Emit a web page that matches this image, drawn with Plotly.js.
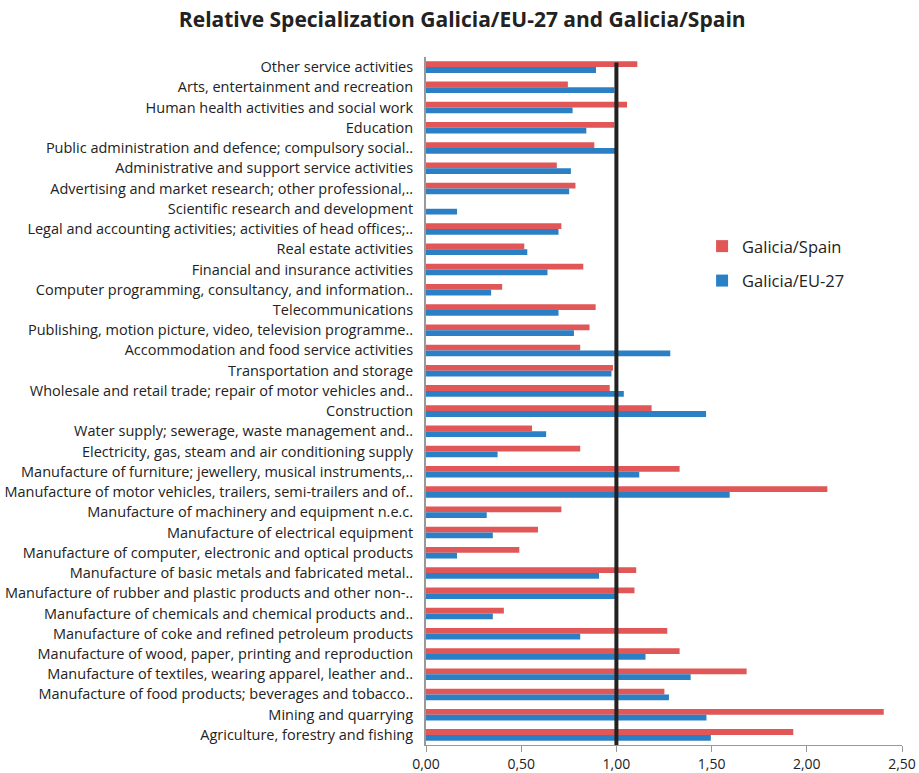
<!DOCTYPE html>
<html>
<head>
<meta charset="utf-8">
<script src="https://cdn.plot.ly/plotly-3.0.1.min.js"></script>
<style>html,body{margin:0;padding:0;background:#fff;}#chart{width:919px;height:773px;}</style>
</head>
<body>
<div id="chart"></div>
<script>
const categories = [
  "Other service activities",
  "Arts, entertainment and recreation",
  "Human health activities and social work",
  "Education",
  "Public administration and defence; compulsory social..",
  "Administrative and support service activities",
  "Advertising and market research; other professional,..",
  "Scientific research and development",
  "Legal and accounting activities; activities of head offices;..",
  "Real estate activities",
  "Financial and insurance activities",
  "Computer programming, consultancy, and information..",
  "Telecommunications",
  "Publishing, motion picture, video, television programme..",
  "Accommodation and food service activities",
  "Transportation and storage",
  "Wholesale and retail trade; repair of motor vehicles and..",
  "Construction",
  "Water supply; sewerage, waste management and..",
  "Electricity, gas, steam and air conditioning supply",
  "Manufacture of furniture; jewellery, musical instruments,..",
  "Manufacture of motor vehicles, trailers, semi-trailers and of..",
  "Manufacture of machinery and equipment n.e.c.",
  "Manufacture of electrical equipment",
  "Manufacture of computer, electronic and optical products",
  "Manufacture of basic metals and fabricated metal..",
  "Manufacture of rubber and plastic products and other non-..",
  "Manufacture of chemicals and chemical products and..",
  "Manufacture of coke and refined petroleum products",
  "Manufacture of wood, paper, printing and reproduction",
  "Manufacture of textiles, wearing apparel, leather and..",
  "Manufacture of food products; beverages and tobacco..",
  "Mining and quarrying",
  "Agriculture, forestry and fishing"
];
const galiciaSpain = [
  1.11, 0.745, 1.056, 0.989, 0.884, 0.687, 0.785, 0, 0.711,
  0.516, 0.826, 0.40, 0.891, 0.859, 0.81, 0.982, 0.965, 1.185,
  0.557, 0.81, 1.332, 2.108, 0.711, 0.588, 0.49, 1.104,
  1.095, 0.409, 1.267, 1.332, 1.684, 1.252, 2.404, 1.929
];
const galiciaEU27 = [
  0.893, 0.989, 0.77, 0.842, 1.00, 0.761, 0.752, 0.163, 0.696,
  0.532, 0.638, 0.342, 0.696, 0.777, 1.283, 0.974, 1.039, 1.471,
  0.631, 0.376, 1.12, 1.595, 0.319, 0.351, 0.163, 0.909,
  0.995, 0.351, 0.81, 1.153, 1.39, 1.276, 1.473, 1.496
];
const xTicks = [0, 0.5, 1, 1.5, 2, 2.5];
const referenceValue = 1;

const font = "Open Sans, Noto Sans, sans-serif";
const traces = [
  {type:"bar", orientation:"h", name:"Galicia/Spain", y:categories, x:galiciaSpain,
   marker:{color:"#E15656"}, legendgroup:"a", hoverinfo:"x+y"},
  {type:"bar", orientation:"h", name:"Galicia/EU-27", y:categories, x:galiciaEU27,
   marker:{color:"#2B80C5"}, legendgroup:"b", hoverinfo:"x+y"}
];
const layout = {
  width:919, height:773,
  paper_bgcolor:"#fff", plot_bgcolor:"#fff",
  margin:{l:426, r:17, t:57, b:28},
  font:{family:font, color:"#222", size:13},
  separators:",.",
  title:{text:"<b>Relative Specialization Galicia/EU-27 and Galicia/Spain</b>",
         font:{family:font, size:21, color:"#222"}, x:0.503, xanchor:"center", y:0.974, yanchor:"middle"},
  barmode:"group", bargap:0.43, bargroupgap:0,
  showlegend:true,
  legend:{x:0.58, y:0.7, xanchor:"left", yanchor:"middle", font:{size:16.5, family:font, color:"#222"},
          bgcolor:"rgba(0,0,0,0)", traceorder:"grouped", tracegroupgap:10},
  xaxis:{range:[0,2.5], tickvals:xTicks, tickformat:".2f", showgrid:false, zeroline:false,
         showline:true, linecolor:"#999", linewidth:1, ticks:"outside", ticklen:6, tickcolor:"#999",
         tickfont:{size:14, family:font, color:"#222"}, fixedrange:true},
  yaxis:{type:"category", autorange:"reversed", showgrid:false, zeroline:false,
         showline:true, linecolor:"#999", linewidth:2, ticks:"", ticklabelstandoff:8,
         tickfont:{size:14.5, family:font, color:"#222"}, fixedrange:true},
  shapes:[{type:"line", xref:"x", yref:"paper", x0:referenceValue, x1:referenceValue, y0:0, y1:0.992,
           line:{color:"#222", width:4}}]
};
Plotly.newPlot("chart", traces, layout, {displayModeBar:false, staticPlot:true});
</script>
</body>
</html>
